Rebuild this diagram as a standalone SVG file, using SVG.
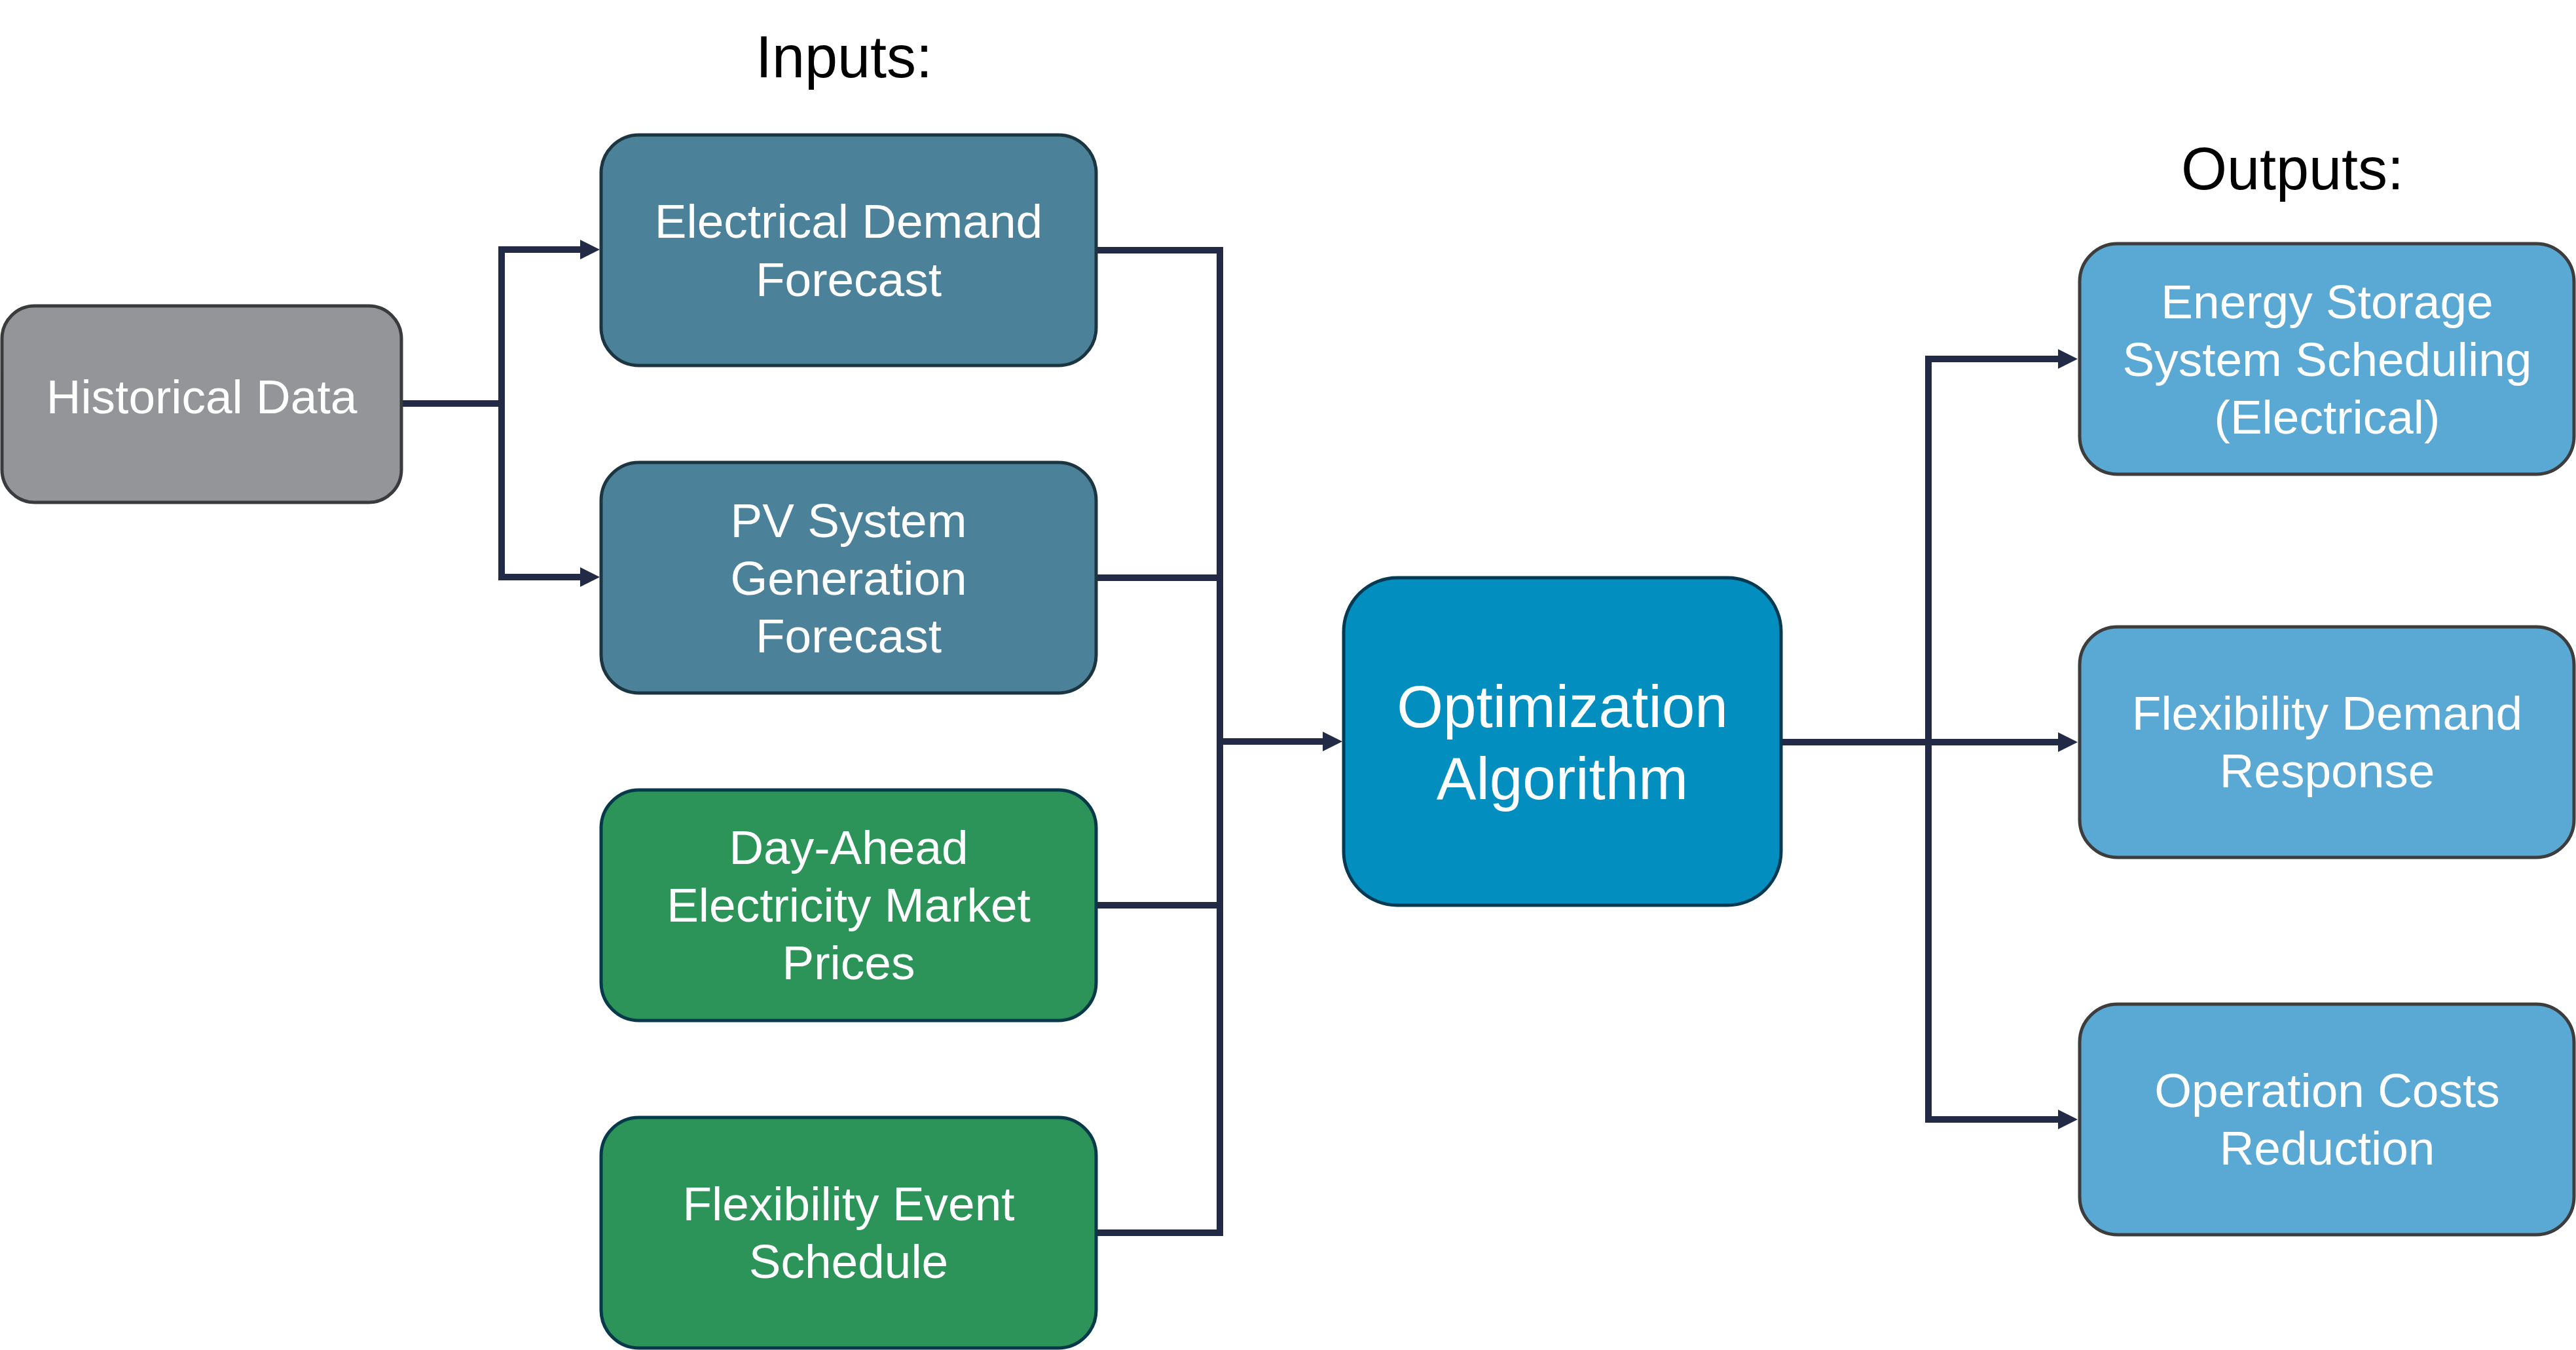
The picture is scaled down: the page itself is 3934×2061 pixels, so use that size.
<svg xmlns="http://www.w3.org/2000/svg" width="3934" height="2061" viewBox="0 0 3934 2061">
<style>
.node{stroke-width:5}
.t{font-family:"Liberation Sans",Arial,sans-serif;fill:#ffffff;text-anchor:middle;font-size:73px}
.big{font-size:91px}
.head{font-family:"Liberation Sans",Arial,sans-serif;fill:#000000;text-anchor:middle;font-size:90px}
.gray{fill:#939598;stroke:#3a3b3d}
.inb{fill:#4c8299;stroke:#1c3641}
.ing{fill:#2c9359;stroke:#063a4a}
.opt{fill:#028fc0;stroke:#053a52}
.out{fill:#5aa8d4;stroke:#3d3d3d}
.c{fill:none;stroke:#222a45;stroke-width:10;stroke-linejoin:miter}
</style>
<defs>
<marker id="arr" viewBox="0 0 30 30" refX="6" refY="15" markerWidth="30" markerHeight="30" markerUnits="userSpaceOnUse" orient="auto">
<path d="M0,0 L30,15 L0,30 Z" fill="#222a45"/>
</marker>
</defs>
<rect width="3934" height="2061" fill="#ffffff"/>
<text class="head" x="1289" y="118">Inputs:</text>
<text class="head" x="3501" y="289">Outputs:</text>
<g id="connectors">
<path class="c" d="M613,616 H766"/>
<path class="c" d="M766,616 V381 H892" marker-end="url(#arr)"/>
<path class="c" d="M766,616 V881 H892" marker-end="url(#arr)"/>
<path class="c" d="M1674,382 H1863 V1132"/>
<path class="c" d="M1674,882 H1863"/>
<path class="c" d="M1674,1382 H1863"/>
<path class="c" d="M1674,1882 H1863 V1132"/>
<path class="c" d="M1863,1132 H2026" marker-end="url(#arr)"/>
<path class="c" d="M2720,1133 H3149" marker-end="url(#arr)"/>
<path class="c" d="M2945,1133 V548 H3149" marker-end="url(#arr)"/>
<path class="c" d="M2945,1133 V1709 H3149" marker-end="url(#arr)"/>
</g>
<g id="historical-data">
<rect class="node gray" x="3" y="467" width="610" height="300" rx="50" ry="50"/>
<text class="t" x="308" y="631">Historical Data</text>
</g>
<g id="electrical-demand-forecast">
<rect class="node inb" x="918" y="206" width="756" height="352" rx="58" ry="58"/>
<text class="t" x="1296" y="363">Electrical Demand</text>
<text class="t" x="1296" y="452">Forecast</text>
</g>
<g id="pv-system-generation-forecast">
<rect class="node inb" x="918" y="706" width="756" height="352" rx="58" ry="58"/>
<text class="t" x="1296" y="820">PV System</text>
<text class="t" x="1296" y="908">Generation</text>
<text class="t" x="1296" y="996">Forecast</text>
</g>
<g id="day-ahead-prices">
<rect class="node ing" x="918" y="1206" width="756" height="352" rx="58" ry="58"/>
<text class="t" x="1296" y="1319">Day-Ahead</text>
<text class="t" x="1296" y="1407">Electricity Market</text>
<text class="t" x="1296" y="1495">Prices</text>
</g>
<g id="flexibility-event-schedule">
<rect class="node ing" x="918" y="1706" width="756" height="352" rx="58" ry="58"/>
<text class="t" x="1296" y="1863">Flexibility Event</text>
<text class="t" x="1296" y="1951">Schedule</text>
</g>
<g id="optimization-algorithm">
<rect class="node opt" x="2052" y="882" width="668" height="500" rx="82" ry="82"/>
<text class="t big" x="2386" y="1110">Optimization</text>
<text class="t big" x="2386" y="1220">Algorithm</text>
</g>
<g id="energy-storage-scheduling">
<rect class="node out" x="3176" y="372" width="755" height="352" rx="58" ry="58"/>
<text class="t" x="3554" y="486">Energy Storage</text>
<text class="t" x="3554" y="574">System Scheduling</text>
<text class="t" x="3554" y="662">(Electrical)</text>
</g>
<g id="flexibility-demand-response">
<rect class="node out" x="3176" y="957" width="755" height="352" rx="58" ry="58"/>
<text class="t" x="3554" y="1114">Flexibility Demand</text>
<text class="t" x="3554" y="1202">Response</text>
</g>
<g id="operation-costs-reduction">
<rect class="node out" x="3176" y="1533" width="755" height="352" rx="58" ry="58"/>
<text class="t" x="3554" y="1690">Operation Costs</text>
<text class="t" x="3554" y="1778">Reduction</text>
</g>
</svg>
